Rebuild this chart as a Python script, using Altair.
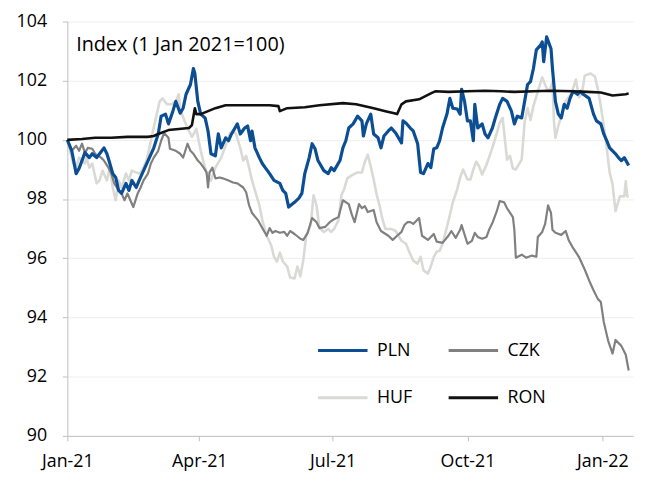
import altair as alt
import pandas as pd

START = pd.Timestamp("2021-01-01")
SERIES = ["PLN", "CZK", "HUF", "RON"]
COLORS = ["#0b4e94", "#808080", "#d9d9d6", "#111111"]
WIDTHS = {"PLN": 3.2, "CZK": 2.2, "HUF": 2.6, "RON": 2.6}
FONT = "Open Sans"
Y_TICKS = [90, 92, 94, 96, 98, 100, 102, 104]
TITLE_TEXT = "Index (1 Jan 2021=100)"

# days since 1 Jan 2021, index values
pln_days = [0, 3, 6, 8, 12, 15, 17, 20, 22, 25,
            27, 29, 31, 33, 35, 37, 40, 42, 44, 47,
            49, 52, 56, 59, 62, 64, 67, 69, 72, 74,
            77, 79, 81, 84, 86, 87, 89, 91, 94, 96,
            98, 101, 103, 105, 108, 110, 112, 116, 118, 121,
            123, 125, 126, 128, 131, 133, 135, 138, 141, 145,
            147, 149, 151, 155, 158, 160, 162, 165, 167, 169,
            171, 175, 178, 180, 182, 186, 188, 190, 192, 195,
            198, 201, 202, 204, 207, 209, 212, 214, 216, 219,
            221, 224, 228, 229, 231, 234, 236, 239, 241, 243,
            246, 248, 250, 252, 254, 256, 259, 261, 263, 266,
            268, 269, 271, 273, 275, 277, 278, 280, 283, 285,
            287, 290, 292, 295, 297, 300, 303, 305, 307, 310,
            312, 314, 316, 318, 320, 323, 324, 325, 327, 330,
            331, 333, 335, 337, 339, 341, 343, 345, 348, 350,
            352, 356, 359, 361, 364, 366, 368, 370, 374, 376,
            378, 380, 383]
pln_vals = [100.00, 99.63, 98.86, 99.03, 99.57, 99.40, 99.53, 99.40, 99.53, 99.73,
            99.53, 99.20, 98.86, 98.73, 98.29, 98.19, 98.53, 98.29, 98.63, 98.39,
            98.63, 98.96, 99.40, 99.73, 100.20, 100.80, 100.87, 100.54, 100.97, 101.30,
            100.90, 101.07, 101.54, 101.87, 102.41, 102.24, 101.30, 100.87, 100.74, 100.30,
            99.53, 99.46, 100.20, 99.73, 100.07, 99.97, 100.20, 100.54, 100.20, 100.40,
            100.47, 99.97, 100.30, 99.73, 99.40, 99.20, 99.06, 98.86, 98.63, 98.53,
            98.29, 98.19, 97.73, 97.89, 98.03, 98.19, 98.86, 99.40, 99.87, 99.70,
            99.30, 98.96, 98.86, 99.06, 98.96, 99.30, 99.73, 99.97, 100.40, 100.54,
            100.80, 100.64, 100.13, 100.54, 100.87, 100.20, 100.07, 99.73, 100.13, 100.30,
            100.40, 100.23, 99.90, 100.64, 100.57, 100.40, 100.30, 99.87, 98.90, 98.86,
            99.20, 99.06, 99.70, 99.73, 99.97, 100.40, 100.87, 101.40, 101.07, 101.04,
            100.87, 101.71, 101.30, 100.64, 100.64, 99.97, 101.20, 100.40, 100.54, 100.20,
            100.07, 100.40, 100.74, 101.20, 101.40, 101.30, 100.97, 100.54, 100.80, 100.74,
            101.30, 101.87, 101.97, 102.41, 103.04, 103.21, 103.31, 102.64, 103.48, 103.08,
            102.41, 101.30, 100.87, 100.74, 101.20, 101.07, 101.40, 101.64, 101.54, 101.64,
            101.54, 101.40, 100.87, 100.64, 100.54, 100.20, 99.97, 99.73, 99.53, 99.40,
            99.30, 99.40, 99.13]

czk_days = [0, 3, 6, 8, 10, 12, 14, 17, 19, 21,
            23, 25, 28, 30, 32, 35, 37, 39, 41, 43,
            45, 48, 50, 52, 55, 57, 59, 62, 64, 66,
            69, 70, 74, 77, 79, 82, 84, 86, 89, 91,
            93, 95, 96, 97, 99, 101, 104, 106, 110, 113,
            116, 120, 122, 124, 126, 130, 133, 136, 138, 140,
            142, 145, 148, 150, 152, 155, 159, 161, 164, 167,
            170, 172, 176, 179, 182, 185, 188, 192, 194, 196,
            199, 201, 203, 205, 209, 211, 214, 219, 222, 225,
            228, 230, 232, 234, 236, 240, 242, 246, 250, 252,
            256, 260, 262, 265, 268, 269, 273, 276, 278, 280,
            283, 286, 288, 290, 293, 295, 298, 300, 304, 305,
            306, 310, 313, 317, 320, 321, 324, 326, 328, 330,
            331, 333, 337, 340, 342, 345, 349, 353, 356, 359,
            362, 364, 366, 369, 372, 374, 378, 381, 383]
czk_vals = [100.00, 99.63, 99.80, 99.63, 99.87, 99.56, 99.73, 99.70, 99.53, 99.46,
            99.40, 99.30, 99.06, 98.86, 98.53, 98.29, 98.19, 97.96, 98.19, 97.96,
            97.73, 98.19, 98.39, 98.63, 98.86, 99.20, 99.40, 99.63, 99.97, 100.23,
            100.07, 99.70, 99.63, 99.53, 99.40, 99.87, 99.63, 99.53, 99.30, 99.20,
            99.06, 98.90, 98.39, 98.90, 99.06, 98.70, 98.73, 98.70, 98.63, 98.56,
            98.53, 98.39, 98.23, 97.79, 97.53, 97.29, 97.02, 96.76, 97.02, 96.86,
            96.92, 96.86, 96.89, 96.76, 96.92, 96.82, 96.66, 96.62, 96.86, 97.36,
            97.22, 97.02, 97.06, 97.22, 97.32, 97.39, 97.96, 97.83, 97.49, 97.22,
            97.83, 97.69, 97.76, 97.56, 97.63, 97.22, 96.92, 96.76, 96.62, 96.76,
            96.89, 97.12, 97.22, 97.22, 97.16, 97.36, 96.76, 96.62, 96.82, 96.56,
            96.52, 96.76, 96.92, 96.69, 96.96, 97.12, 96.49, 96.59, 96.86, 96.72,
            96.66, 96.72, 96.99, 97.19, 97.59, 97.93, 97.89, 97.69, 97.39, 96.96,
            96.02, 96.12, 96.02, 96.09, 96.05, 96.72, 96.89, 97.16, 97.79, 97.53,
            96.96, 96.86, 96.79, 96.92, 96.62, 96.35, 96.05, 95.62, 95.25, 94.92,
            94.62, 94.52, 93.85, 93.21, 92.78, 93.24, 93.04, 92.74, 92.21]

huf_days = [0, 4, 6, 8, 12, 13, 15, 17, 20, 22,
            24, 27, 29, 31, 33, 35, 37, 40, 42, 44,
            49, 51, 54, 56, 58, 61, 63, 65, 68, 71,
            74, 76, 77, 80, 83, 85, 88, 91, 93, 96,
            98, 101, 103, 105, 108, 111, 113, 115, 118, 120,
            122, 124, 126, 128, 131, 133, 136, 139, 141, 143,
            145, 147, 150, 152, 155, 157, 159, 161, 163, 166,
            168, 170, 172, 175, 178, 180, 182, 185, 187, 189,
            191, 194, 198, 201, 203, 205, 207, 209, 211, 213,
            215, 217, 221, 224, 228, 231, 233, 236, 239, 241,
            243, 246, 248, 250, 252, 254, 256, 259, 261, 263,
            266, 268, 270, 273, 275, 277, 279, 281, 283, 286,
            290, 293, 295, 297, 300, 302, 304, 306, 310, 312,
            314, 316, 318, 322, 324, 327, 329, 331, 332, 333,
            335, 337, 340, 342, 344, 347, 349, 351, 353, 357,
            360, 362, 364, 367, 370, 372, 374, 377, 380, 381,
            382, 383]
huf_vals = [100.00, 99.20, 99.06, 99.40, 99.20, 99.40, 99.06, 99.20, 98.53, 98.63,
            98.96, 98.63, 99.06, 98.39, 97.96, 98.63, 98.39, 98.86, 98.63, 98.96,
            98.86, 98.96, 99.30, 99.73, 100.20, 100.87, 101.30, 101.40, 101.20, 101.20,
            101.30, 101.54, 101.04, 100.64, 100.30, 100.10, 100.37, 99.63, 99.23, 98.70,
            98.63, 99.06, 99.23, 99.40, 99.80, 100.23, 100.30, 100.20, 99.73, 99.30,
            99.46, 99.06, 98.63, 98.29, 97.79, 97.29, 96.76, 96.45, 96.05, 95.89,
            96.19, 95.89, 95.72, 95.35, 95.32, 95.72, 95.39, 95.95, 96.76, 97.12,
            98.13, 97.79, 97.02, 96.89, 96.99, 96.89, 96.99, 97.29, 98.13, 98.36,
            98.70, 98.80, 98.90, 98.90, 99.26, 99.50, 99.10, 98.66, 98.16, 97.79,
            97.32, 96.99, 96.99, 96.92, 96.59, 96.49, 96.25, 95.92, 95.82, 96.05,
            95.59, 95.48, 95.72, 96.05, 96.22, 96.25, 96.49, 97.06, 97.46, 97.89,
            98.33, 98.73, 99.00, 98.66, 98.66, 99.00, 99.26, 99.10, 98.83, 99.16,
            99.73, 100.23, 100.57, 100.74, 99.33, 99.46, 99.03, 99.00, 99.33, 100.60,
            101.07, 100.67, 101.14, 101.80, 102.11, 101.74, 101.64, 101.97, 100.64, 100.07,
            100.47, 100.80, 101.30, 101.44, 101.57, 102.04, 101.44, 101.54, 102.17, 102.24,
            102.14, 101.70, 101.14, 100.13, 98.90, 98.49, 97.59, 98.09, 98.09, 98.60,
            98.09, 98.09]

ron_days = [0, 10, 19, 30, 41, 55, 59, 62, 69, 83,
            85, 87, 88, 91, 96, 101, 108, 115, 126, 138,
            144, 145, 150, 162, 172, 188, 197, 209, 217, 223,
            225, 228, 231, 240, 248, 251, 260, 273, 285, 296,
            305, 318, 330, 345, 355, 364, 372, 381, 383]
ron_vals = [100.00, 100.03, 100.07, 100.07, 100.10, 100.10, 100.13, 100.20, 100.33, 100.40,
            100.50, 101.07, 100.87, 100.87, 100.97, 101.07, 101.17, 101.17, 101.17, 101.17,
            101.14, 100.97, 101.07, 101.10, 101.17, 101.24, 101.20, 101.07, 100.97, 100.90,
            100.87, 101.20, 101.30, 101.37, 101.57, 101.64, 101.62, 101.64, 101.66, 101.64,
            101.62, 101.64, 101.66, 101.64, 101.62, 101.60, 101.50, 101.54, 101.57]


def frame(name, days, vals):
    assert len(days) == len(vals), name
    return pd.DataFrame({
        "date": [(START + pd.Timedelta(days=d)).strftime("%Y-%m-%d") for d in days],
        "value": vals,
        "series": name,
    })


df = pd.concat([
    frame("PLN", pln_days, pln_vals),
    frame("CZK", czk_days, czk_vals),
    frame("HUF", huf_days, huf_vals),
    frame("RON", ron_days, ron_vals),
], ignore_index=True)

label_df = pd.DataFrame({"date": ["2021-01-07"], "value": [103.0], "label": [TITLE_TEXT]})

x_dom = [alt.DateTime(year=2021, month=1, date=1, utc=True),
         alt.DateTime(year=2022, month=1, date=22, utc=True)]
x_ticks = [alt.DateTime(year=2021, month=1, date=1, utc=True),
           alt.DateTime(year=2021, month=4, date=1, utc=True),
           alt.DateTime(year=2021, month=7, date=1, utc=True),
           alt.DateTime(year=2021, month=10, date=1, utc=True),
           alt.DateTime(year=2022, month=1, date=1, utc=True)]

x_enc = alt.X("date:T",
              scale=alt.Scale(type="utc", domain=x_dom),
              axis=alt.Axis(values=x_ticks, format="%b-%y", title=None, grid=False,
                            tickSize=5, labelPadding=12, labelFlush=False))
y_enc = alt.Y("value:Q",
              scale=alt.Scale(domain=[90, 104], nice=False, zero=False),
              axis=alt.Axis(values=Y_TICKS, title=None, grid=True, tickSize=5,
                            labelPadding=16, labelFlush=False))
color_enc = alt.Color("series:N",
                      scale=alt.Scale(domain=SERIES, range=COLORS),
                      legend=alt.Legend(title=None, orient="none", legendX=252, legendY=306,
                                        direction="horizontal", columns=2,
                                        symbolType="stroke", symbolSize=2500,
                                        symbolStrokeWidth=3, labelFontSize=18, labelFont=FONT,
                                        labelColor="#000000", labelOffset=8,
                                        columnPadding=30, rowPadding=12, padding=0))

base = alt.Chart(df).encode(x=x_enc, y=y_enc, color=color_enc)
layers = []
for s in ["HUF", "CZK", "PLN", "RON"]:
    layers.append(base.transform_filter(alt.datum.series == s)
                  .mark_line(strokeWidth=WIDTHS[s], strokeJoin="round"))

label = alt.Chart(label_df).mark_text(align="left", baseline="alphabetic", fontSize=20,
                                      font=FONT, color="#000000").encode(
    x=alt.X("date:T"), y=alt.Y("value:Q"), text="label:N")

chart = alt.layer(*layers, label).properties(
    width=572, height=419,
    autosize=alt.AutoSizeParams(type="none"),
    padding={"left": 60, "top": 11, "right": 8, "bottom": 40},
).configure_view(stroke=None).configure_axis(
    labelFont=FONT, labelFontSize=18, labelColor="#000000",
    domainColor="#bfbfbf", tickColor="#bfbfbf", gridColor="#eeeeee",
)

chart.save("out.html", embed_options={"renderer": "svg", "actions": False})
